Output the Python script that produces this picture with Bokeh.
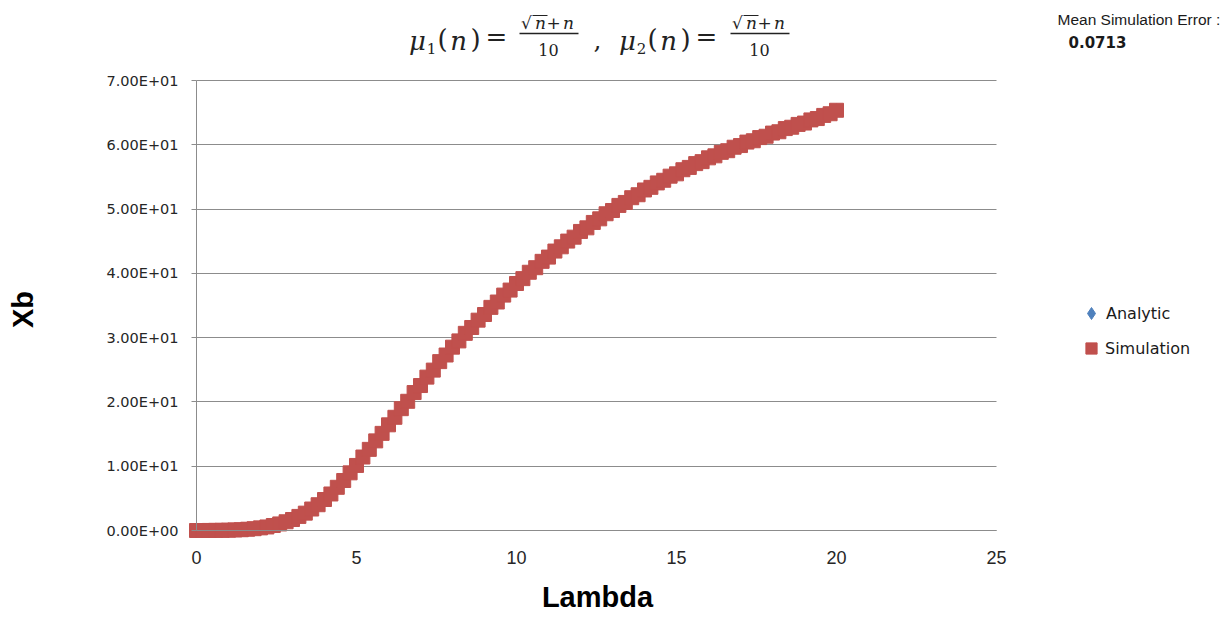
import math
from bokeh.plotting import figure
from bokeh.models import Range1d, FixedTicker, Label, Legend, LegendItem, Arrow, Grid
from bokeh.embed import file_html
from bokeh.resources import INLINE

# ---------------- data ----------------
lam = [round(i * 0.2, 1) for i in range(101)]  # 0.0 .. 20.0 step 0.2

analytic = [
    0.00, 0.00, 0.01, 0.01, 0.03, 0.05, 0.08, 0.12, 0.19, 0.28,
    0.40, 0.56, 0.77, 1.03, 1.35, 1.72, 2.18, 2.71, 3.32, 4.02,
    4.80, 5.70, 6.70, 7.80, 8.95, 10.15, 11.40, 12.65, 13.90, 15.15,
    16.40, 17.65, 18.90, 20.15, 21.40, 22.60, 23.80, 25.00, 26.20, 27.35,
    28.45, 29.55, 30.60, 31.65, 32.65, 33.65, 34.65, 35.60, 36.55, 37.45,
    38.35, 39.25, 40.10, 40.95, 41.80, 42.60, 43.40, 44.20, 44.95, 45.70,
    46.45, 47.15, 47.85, 48.55, 49.20, 49.85, 50.50, 51.10, 51.70, 52.30,
    52.90, 53.45, 54.00, 54.55, 55.05, 55.55, 56.05, 56.55, 57.00, 57.45,
    57.90, 58.35, 58.75, 59.15, 59.55, 59.95, 60.35, 60.70, 61.05, 61.40,
    61.75, 62.10, 62.45, 62.80, 63.10, 63.45, 63.80, 64.15, 64.50, 64.90,
    65.30,
]

simulation = [
    0.00, 0.00, 0.01, 0.02, 0.03, 0.05, 0.09, 0.12, 0.20, 0.28,
    0.41, 0.55, 0.78, 1.02, 1.36, 1.71, 2.19, 2.70, 3.34, 4.01,
    4.82, 5.68, 6.72, 7.78, 8.97, 10.12, 11.43, 12.62, 13.94, 15.11,
    16.44, 17.61, 18.95, 20.10, 21.46, 22.55, 23.86, 24.95, 26.27, 27.30,
    28.52, 29.49, 30.67, 31.58, 32.72, 33.60, 34.71, 35.54, 36.62, 37.40,
    38.42, 39.18, 40.17, 40.88, 41.87, 42.53, 43.47, 44.13, 45.02, 45.63,
    46.52, 47.08, 47.92, 48.48, 49.27, 49.78, 50.57, 51.03, 51.77, 52.23,
    52.97, 53.38, 54.07, 54.48, 55.12, 55.48, 56.12, 56.48, 57.07, 57.38,
    57.97, 58.28, 58.82, 59.08, 59.62, 59.88, 60.42, 60.63, 61.12, 61.33,
    61.82, 62.03, 62.52, 62.73, 63.17, 63.38, 63.87, 64.08, 64.57, 64.83,
    65.37,
]

series_names = ["Analytic", "Simulation"]
x_ticks = [0, 5, 10, 15, 20, 25]
y_ticks = [0, 10, 20, 30, 40, 50, 60, 70]
y_tick_labels = ["0.00E+00", "1.00E+01", "2.00E+01", "3.00E+01",
                 "4.00E+01", "5.00E+01", "6.00E+01", "7.00E+01"]
x_title = "Lambda"
y_title = "Xb"
error_title = "Mean Simulation Error :"
error_value = "0.0713"

# ---------------- layout ----------------
W, H = 1225, 625
# plot area (axes box) in page pixels
PL, PT, PW, PH = 196, 80, 800, 450
X0, X1, Y0, Y1 = 0, 25, 0, 70
kx = PW / (X1 - X0)
ky = PH / (Y1 - Y0)

# whole canvas is the frame; the axes box is drawn with bounded axes
xr = Range1d(X0 - PL / kx, X1 + (W - PL - PW) / kx)
yr = Range1d(Y0 - (H - PT - PH) / ky, Y1 + PT / ky)

p = figure(width=W, height=H, x_range=xr, y_range=yr,
           output_backend="svg", toolbar_location=None, min_border=0)
p.outline_line_color = None
p.background_fill_color = "white"
p.border_fill_color = "white"

p.xgrid.grid_line_color = None
p.ygrid.grid_line_color = "#8c8c8c"
p.ygrid.grid_line_width = 1
p.ygrid.ticker = FixedTicker(ticks=y_ticks)
if "cross_bounds" in Grid.properties():
    p.ygrid.cross_bounds = (X0, X1)
else:
    p.ygrid.grid_line_color = None
    p.segment(x0=[X0] * len(y_ticks), y0=y_ticks, x1=[X1] * len(y_ticks),
              y1=y_ticks, line_color="#8c8c8c", line_width=1)

p.xaxis.ticker = FixedTicker(ticks=x_ticks)
p.yaxis.ticker = FixedTicker(ticks=y_ticks)
p.yaxis.major_label_overrides = {t: s for t, s in zip(y_ticks, y_tick_labels)}

p.xaxis.fixed_location = Y0
p.yaxis.fixed_location = X0
p.xaxis.bounds = (X0, X1)
p.yaxis.bounds = (Y0, Y1)

for ax in (p.xaxis[0], p.yaxis[0]):
    ax.axis_line_color = "#8c8c8c"
    ax.major_tick_line_color = "#8c8c8c"
    ax.minor_tick_line_color = None
    ax.major_tick_in = 0
    ax.major_label_text_color = "#262626"

p.xaxis.major_tick_out = 0
p.xaxis.major_label_text_font = "Liberation Sans"
p.xaxis.major_label_text_font_size = "18px"
p.xaxis.major_label_standoff = 20

p.yaxis.major_tick_out = 5
p.yaxis.major_label_text_font = "DejaVu Sans"
p.yaxis.major_label_text_font_size = "14.5px"
p.yaxis.major_label_standoff = 13

# Analytic: blue diamonds; Simulation: red squares drawn on top
r_an = p.scatter(lam, analytic, marker="diamond", size=14,
                 fill_color="#4F81BD", line_color="#4F81BD")
r_sim = p.scatter(lam, simulation, marker="square", size=14,
                  fill_color="#C0504D", line_color="#C0504D")

legend_style = dict(orientation="vertical", padding=0, margin=0,
                    label_text_font="DejaVu Sans", label_text_font_size="16px",
                    label_text_color="#1a1a1a", border_line_color=None,
                    background_fill_alpha=0)
leg_an = Legend(items=[LegendItem(label=series_names[0], renderers=[r_an])],
                location=(1076, 297), glyph_width=30, glyph_height=30,
                label_height=30, label_standoff=-5, **legend_style)
leg_sim = Legend(items=[LegendItem(label=series_names[1], renderers=[r_sim])],
                 location=(1077, 263), glyph_width=28, glyph_height=28,
                 label_height=28, label_standoff=-4, **legend_style)
p.add_layout(leg_an)
p.add_layout(leg_sim)


# helpers to place annotation pieces using page pixel positions
def dx(px):
    return X0 + (px - PL) / kx


def dy(py):
    return Y0 + (PT + PH - py) / ky


def lab(text, px, py, size, style="normal", font="DejaVu Serif",
        align="center", color="#222222", angle=0.0):
    p.add_layout(Label(x=dx(px), y=dy(py), text=text, text_font=font,
                       text_font_size=f"{size}px", text_font_style=style,
                       text_align=align, text_baseline="middle",
                       text_color=color, angle=angle))


def bar(px0, px1, py, w=1.4):
    p.add_layout(Arrow(end=None, x_start=dx(px0), y_start=dy(py),
                       x_end=dx(px1), y_end=dy(py),
                       line_color="#222222", line_width=w))


# axis titles
lab(x_title, 597, 596, 29, "bold", "Liberation Sans", color="#000000")
lab(y_title, 22, 309, 29, "bold", "Liberation Sans", color="#000000",
    angle=math.pi / 2)


# formula title: mu1(n) = (sqrt(n)+n)/10 , mu2(n) = (sqrt(n)+n)/10
def formula(sub, mu_x, off):
    lab("μ", mu_x, 40, 26, "italic")
    lab(sub, mu_x + 14, 48, 15)
    lab("(", mu_x + 25, 38, 26)
    lab("n", mu_x + 41, 40, 26, "italic")
    lab(")", mu_x + 58, 38, 26)
    lab("=", mu_x + 79, 36, 26)
    c = mu_x + off
    lab("√", c - 22, 22, 17)
    lab("n", c - 8, 22, 17, "italic")
    lab("+", c + 5, 22, 17)
    lab("n", c + 20, 22, 17, "italic")
    bar(c - 16, c - 1, 15, 1.2)
    bar(c - 29, c + 30, 33, 1.5)
    lab("10", c, 49, 16)


formula("1", 417, 131)
lab(",", 597, 39, 25)
formula("2", 627, 132)

lab(error_title, 1057, 19, 15.5, font="Liberation Sans", align="left",
    color="#1a1a1a")
lab(error_value, 1068, 41, 15, style="bold", font="DejaVu Sans",
    align="left", color="#1a1a1a")

open("out.html", "w").write(file_html(p, INLINE))
